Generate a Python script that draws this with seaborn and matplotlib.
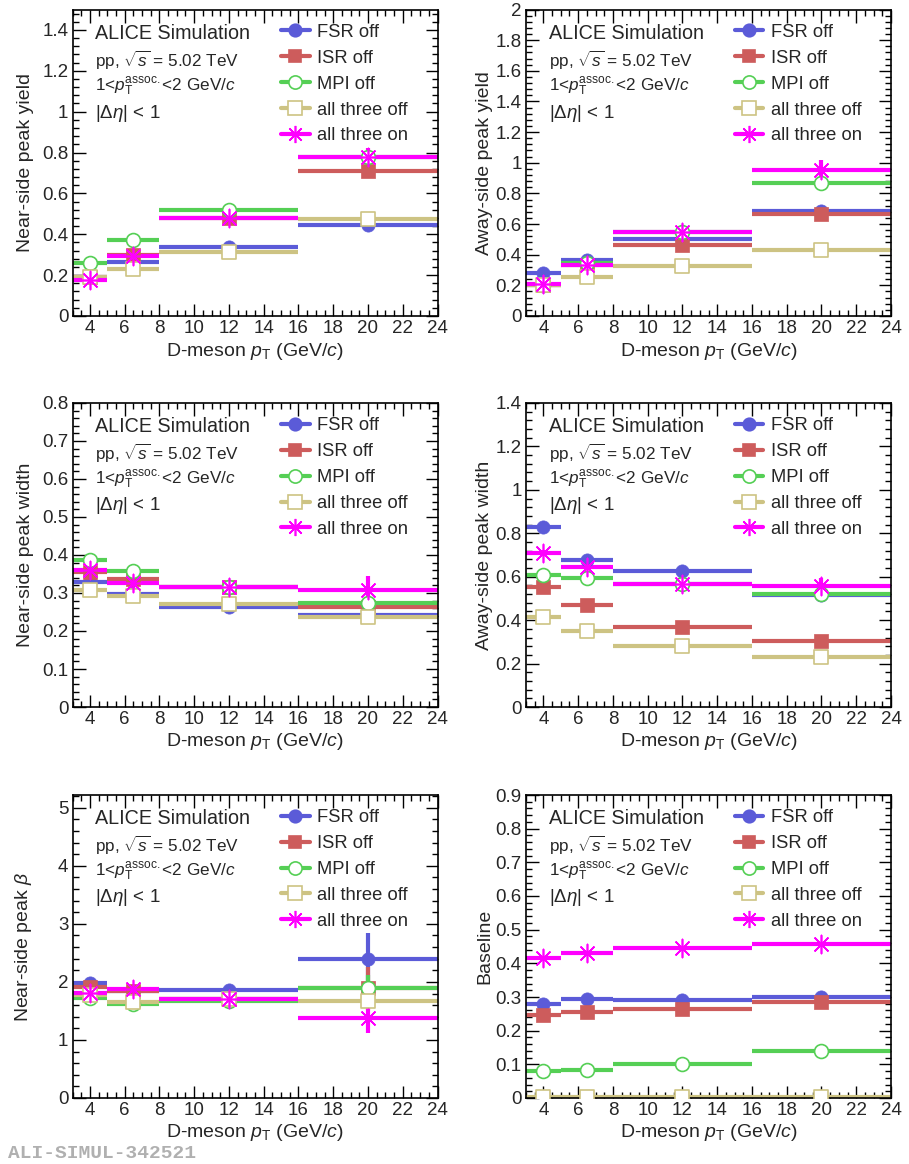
import matplotlib
matplotlib.use("Agg")
import matplotlib.pyplot as plt
from matplotlib.lines import Line2D
from matplotlib.ticker import MultipleLocator, FuncFormatter
import seaborn as sns

# ---------------- data ----------------
bin_low = [3, 5, 8, 16]
bin_high = [5, 8, 16, 24]
pt_center = [4, 6.5, 12, 20]

series_names = ["FSR off", "ISR off", "MPI off", "all three off", "all three on"]

# Near-side peak yield
nsy_fsr = [0.19, 0.266, 0.337, 0.443]
nsy_isr = [0.19, 0.297, 0.48, 0.712]
nsy_mpi = [0.258, 0.374, 0.517, 0.776]
nsy_off = [0.19, 0.228, 0.311, 0.473]
nsy_on = [0.177, 0.295, 0.479, 0.778]
nsy_err_fsr = [0.005, 0.006, 0.008, 0.01]
nsy_err_isr = [0.006, 0.008, 0.015, 0.025]
nsy_err_mpi = [0.006, 0.008, 0.012, 0.02]
nsy_err_off = [0.004, 0.005, 0.008, 0.01]
nsy_err_on = [0.01, 0.015, 0.02, 0.043]

# Away-side peak yield
asy_fsr = [0.282, 0.364, 0.505, 0.685]
asy_isr = [0.2, 0.33, 0.464, 0.666]
asy_mpi = [0.2, 0.347, 0.55, 0.87]
asy_off = [0.2, 0.254, 0.328, 0.432]
asy_on = [0.206, 0.33, 0.549, 0.953]
asy_err_fsr = [0.008, 0.01, 0.012, 0.015]
asy_err_isr = [0.008, 0.01, 0.012, 0.015]
asy_err_mpi = [0.008, 0.01, 0.015, 0.02]
asy_err_off = [0.006, 0.008, 0.01, 0.012]
asy_err_on = [0.015, 0.02, 0.03, 0.063]

# Near-side peak width
nsw_fsr = [0.329, 0.298, 0.262, 0.242]
nsw_isr = [0.354, 0.338, 0.316, 0.263]
nsw_mpi = [0.386, 0.358, 0.317, 0.275]
nsw_off = [0.308, 0.292, 0.27, 0.238]
nsw_on = [0.36, 0.326, 0.316, 0.308]
nsw_err_fsr = [0.004, 0.004, 0.005, 0.008]
nsw_err_isr = [0.005, 0.005, 0.006, 0.012]
nsw_err_mpi = [0.005, 0.005, 0.006, 0.015]
nsw_err_off = [0.004, 0.004, 0.005, 0.008]
nsw_err_on = [0.01, 0.012, 0.012, 0.036]

# Away-side peak width
asw_fsr = [0.829, 0.678, 0.628, 0.517]
asw_isr = [0.553, 0.47, 0.369, 0.305]
asw_mpi = [0.609, 0.594, 0.566, 0.52]
asw_off = [0.415, 0.349, 0.281, 0.228]
asw_on = [0.711, 0.645, 0.568, 0.557]
asw_err_fsr = [0.008, 0.008, 0.008, 0.01]
asw_err_isr = [0.006, 0.006, 0.006, 0.008]
asw_err_mpi = [0.006, 0.006, 0.008, 0.01]
asw_err_off = [0.005, 0.005, 0.005, 0.006]
asw_err_on = [0.01, 0.012, 0.015, 0.035]

# Near-side peak beta
nsb_fsr = [1.98, 1.84, 1.86, 2.39]
nsb_isr = [1.92, 1.85, 1.70, 1.90]
nsb_mpi = [1.73, 1.62, 1.67, 1.89]
nsb_off = [1.78, 1.66, 1.70, 1.67]
nsb_on = [1.81, 1.87, 1.70, 1.37]
nsb_err_fsr = [0.05, 0.04, 0.08, 0.45]
nsb_err_isr = [0.05, 0.04, 0.06, 0.35]
nsb_err_mpi = [0.05, 0.04, 0.06, 0.23]
nsb_err_off = [0.04, 0.04, 0.05, 0.15]
nsb_err_on = [0.06, 0.05, 0.07, 0.25]

# Baseline
bl_fsr = [0.279, 0.294, 0.292, 0.300]
bl_isr = [0.248, 0.254, 0.263, 0.286]
bl_mpi = [0.081, 0.082, 0.101, 0.139]
bl_off = [0.002, 0.002, 0.003, 0.003]
bl_on = [0.416, 0.431, 0.446, 0.458]
bl_err_fsr = [0.002, 0.002, 0.002, 0.002]
bl_err_isr = [0.002, 0.002, 0.002, 0.002]
bl_err_mpi = [0.002, 0.002, 0.002, 0.002]
bl_err_off = [0.001, 0.001, 0.001, 0.001]
bl_err_on = [0.003, 0.003, 0.003, 0.003]

panel_ylabels = ["Near-side peak yield", "Away-side peak yield",
                 "Near-side peak width", "Away-side peak width",
                 r"Near-side peak $\beta$", "Baseline"]

# ---------------- style ----------------
sns.set_theme(style="ticks")
plt.rcParams["font.family"] = ["Liberation Sans", "DejaVu Sans"]
plt.rcParams["mathtext.fontset"] = "custom"
plt.rcParams["mathtext.rm"] = "Liberation Sans"
plt.rcParams["mathtext.it"] = "Liberation Sans:italic"
plt.rcParams["mathtext.bf"] = "Liberation Sans:bold"

colors = ["#5b5bd8", "#cd5c5c", "#55cf55", "#cdc383", "#ff00ff"]
markers = ["o", "s", "o", "s", (8, 2, 0)]
filled = [True, True, False, False, True]
msizes = [9.5, 9.5, 10, 10.5, 13]

panels = [
    ([nsy_fsr, nsy_isr, nsy_mpi, nsy_off, nsy_on],
     [nsy_err_fsr, nsy_err_isr, nsy_err_mpi, nsy_err_off, nsy_err_on],
     (0, 1.5), 0.2, 0.04),
    ([asy_fsr, asy_isr, asy_mpi, asy_off, asy_on],
     [asy_err_fsr, asy_err_isr, asy_err_mpi, asy_err_off, asy_err_on],
     (0, 2.0), 0.2, 0.04),
    ([nsw_fsr, nsw_isr, nsw_mpi, nsw_off, nsw_on],
     [nsw_err_fsr, nsw_err_isr, nsw_err_mpi, nsw_err_off, nsw_err_on],
     (0, 0.8), 0.1, 0.02),
    ([asw_fsr, asw_isr, asw_mpi, asw_off, asw_on],
     [asw_err_fsr, asw_err_isr, asw_err_mpi, asw_err_off, asw_err_on],
     (0, 1.4), 0.2, 0.04),
    ([nsb_fsr, nsb_isr, nsb_mpi, nsb_off, nsb_on],
     [nsb_err_fsr, nsb_err_isr, nsb_err_mpi, nsb_err_off, nsb_err_on],
     (0, 5.22), 1.0, 0.2),
    ([bl_fsr, bl_isr, bl_mpi, bl_off, bl_on],
     [bl_err_fsr, bl_err_isr, bl_err_mpi, bl_err_off, bl_err_on],
     (0, 0.9), 0.1, 0.02),
]

fig = plt.figure(figsize=(9.09, 11.64), dpi=100)
W, H = 909.0, 1164.0
col_left = [72.5, 526.0]
ax_w = 365.0
row_top = [9.5, 403.0, 795.0]
row_bot = [316.0, 707.0, 1098.0]

xerr_lo = [c - l for c, l in zip(pt_center, bin_low)]
xerr_hi = [h - c for c, h in zip(pt_center, bin_high)]

fmt = FuncFormatter(lambda v, p: "%g" % round(v, 6))

for i, (vals, errs, ylim, major, minor) in enumerate(panels):
    r, c = divmod(i, 2)
    left = col_left[c] / W
    bottom = 1 - row_bot[r] / H
    height = (row_bot[r] - row_top[r]) / H
    ax = fig.add_axes([left, bottom, ax_w / W, height])

    for k in range(5):
        col = colors[k]
        ax.errorbar(pt_center, vals[k], xerr=[xerr_lo, xerr_hi], yerr=errs[k],
                    fmt="none", ecolor=col, elinewidth=3, capsize=0,
                    zorder=2 + k * 0.1)
    for k in range(5):
        col = colors[k]
        m = markers[k]
        if k == 4:
            sns.scatterplot(x=pt_center, y=vals[k], ax=ax, marker=m,
                            s=msizes[k] ** 2, color=col, edgecolor=col,
                            linewidth=1.2, zorder=5, legend=False)
        elif filled[k]:
            sns.scatterplot(x=pt_center, y=vals[k], ax=ax, marker=m,
                            s=msizes[k] ** 2, color=col, edgecolor=col,
                            linewidth=0.5, zorder=4, legend=False)
        else:
            sns.scatterplot(x=pt_center, y=vals[k], ax=ax, marker=m,
                            s=msizes[k] ** 2, facecolor="white", edgecolor=col,
                            linewidth=1.2, zorder=4, legend=False)

    ax.set_xlim(3, 24)
    ax.set_ylim(*ylim)
    ax.xaxis.set_major_locator(MultipleLocator(2))
    ax.xaxis.set_minor_locator(MultipleLocator(0.5))
    ax.yaxis.set_major_locator(MultipleLocator(major))
    ax.yaxis.set_minor_locator(MultipleLocator(minor))
    ax.yaxis.set_major_formatter(fmt)
    ax.tick_params(which="both", direction="in", top=True, right=True,
                   labelsize=13.5, color="black", width=1.0, pad=3)
    ax.tick_params(which="major", length=9)
    ax.tick_params(which="minor", length=4.5)
    for sp in ax.spines.values():
        sp.set_linewidth(1.2)
        sp.set_color("black")
        sp.set_visible(True)

    ax.set_xlabel(r"D-meson $p_{\rm T}$ (GeV/$c$)", fontsize=14)
    ax.xaxis.set_label_coords(0.5, -0.08)
    ax.set_ylabel(panel_ylabels[i], fontsize=14)
    ax.yaxis.set_label_coords(-0.105 if c == 0 else -0.09, 0.5)

    tx = 0.062
    ax.text(tx, 0.922, "ALICE Simulation", transform=ax.transAxes,
            fontsize=14.2, va="center", ha="left")
    ax.text(tx, 0.835, r"pp, $\sqrt{s}$ = 5.02 TeV", transform=ax.transAxes,
            fontsize=12.3, va="center", ha="left")
    ax.text(tx, 0.748, r"1<$p_{\rm T}^{\rm assoc.}$<2 GeV/$c$",
            transform=ax.transAxes, fontsize=12.3, va="center", ha="left")
    ax.text(tx, 0.662, r"|$\Delta\eta$| < 1", transform=ax.transAxes,
            fontsize=13.5, va="center", ha="left")

    handles = []
    for k in range(5):
        fc = colors[k] if filled[k] else "white"
        handles.append(Line2D([], [], color=colors[k], lw=3, marker=markers[k],
                              markersize=msizes[k] * 0.95,
                              markerfacecolor=fc, markeredgecolor=colors[k],
                              markeredgewidth=1.2))
    ax.legend(handles, series_names, loc="upper left",
              bbox_to_anchor=(0.572, 0.953), frameon=False, fontsize=13.2,
              handlelength=1.55, handletextpad=0.4, labelspacing=0.485,
              borderaxespad=0, borderpad=0, numpoints=1)

fig.text(8 / W, 1 - 1153 / H, "ALI-SIMUL-342521", fontsize=14,
         family=["Liberation Mono", "DejaVu Sans Mono"], weight="bold",
         color="#b0b0b0", va="center", ha="left")

fig.savefig("out.png", dpi=100)
